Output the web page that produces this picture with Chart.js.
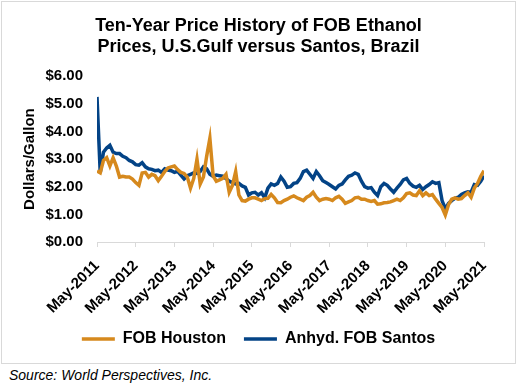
<!DOCTYPE html>
<html>
<head>
<meta charset="utf-8">
<script src="https://cdn.jsdelivr.net/npm/chart.js@4/dist/chart.umd.min.js"></script>
<style>
  html, body { margin: 0; padding: 0; background: #fff; }
  #box {
    position: absolute; left: 1px; top: 1px;
    width: 513px; height: 361px;
    border: 1px solid #d9d9d9;
  }
  #source {
    position: absolute; left: 9px; top: 367px;
    font: italic 14px 'Liberation Sans', Arial, sans-serif;
    color: #000;
  }
</style>
</head>
<body>
<div id="box"><canvas id="chart" width="513" height="361"></canvas></div>
<div id="source">Source: World Perspectives, Inc.</div>
<script>
// ─── Data (monthly, May-2011 .. May-2021, $/gallon) ──────────────────────

const tickLabels = [
  'May-2011', 'May-2012', 'May-2013', 'May-2014', 'May-2015', 'May-2016',
  'May-2017', 'May-2018', 'May-2019', 'May-2020', 'May-2021',
];

const fobHouston = [
  2.57, 2.50, 2.95, 3.05, 2.75, 3.05, 2.75, 2.35, 2.38, 2.35, 2.35, 2.28,
  2.15, 2.05, 2.50, 2.52, 2.35, 2.45, 2.40, 2.22, 2.38, 2.55, 2.68, 2.72,
  2.75, 2.62, 2.52, 2.48, 2.35, 1.95, 2.30, 3.00, 2.10, 2.35, 3.10, 3.75,
  2.40, 2.20, 2.25, 2.30, 2.45, 1.80, 2.05, 2.55, 1.70, 1.50, 1.48, 1.55,
  1.60, 1.60, 1.55, 1.50, 1.57, 1.58, 1.72, 1.60, 1.43, 1.42, 1.50, 1.55,
  1.62, 1.67, 1.60, 1.55, 1.50, 1.62, 1.68, 1.80, 1.62, 1.50, 1.55, 1.57,
  1.55, 1.50, 1.60, 1.65, 1.55, 1.40, 1.45, 1.50, 1.60, 1.62, 1.55, 1.55,
  1.50, 1.47, 1.50, 1.37, 1.38, 1.42, 1.43, 1.45, 1.50, 1.55, 1.50, 1.60,
  1.75, 1.78, 1.70, 1.68, 1.85, 1.68, 1.78, 1.68, 1.72, 1.55, 1.40, 1.25,
  0.98, 1.35, 1.55, 1.60, 1.55, 1.57, 1.68, 1.78, 1.62, 1.95, 2.12, 2.38,
  2.58,
];

const fobSantos = [
  5.25, 2.50, 3.25, 3.40, 3.50, 3.25, 3.20, 3.20, 3.10, 3.05, 2.95, 2.90,
  2.80, 2.78, 2.87, 2.72, 2.65, 2.63, 2.58, 2.60, 2.52, 2.65, 2.60, 2.58,
  2.52, 2.56, 2.42, 2.28, 2.40, 2.45, 2.50, 2.48, 2.55, 2.72, 2.65, 2.45,
  2.38, 2.42, 2.40, 2.38, 2.30, 2.20, 2.15, 2.10, 2.12, 2.03, 1.98, 1.70,
  1.78, 1.80, 1.70, 1.78, 1.60, 1.95, 2.10, 2.05, 2.12, 2.35, 2.20, 1.98,
  2.00, 2.12, 2.15, 2.30, 2.55, 2.60, 2.45, 2.30, 2.55, 2.40, 2.22, 2.15,
  2.08, 2.00, 1.92, 2.05, 2.10, 2.25, 2.38, 2.42, 2.50, 2.45, 2.20, 2.00,
  1.95, 1.97, 1.80, 1.68, 2.00, 2.12, 2.05, 1.92, 1.80, 1.95, 2.08, 2.25,
  2.30, 2.12, 2.02, 1.98, 2.05, 1.90, 2.00, 2.08, 2.18, 2.12, 2.15, 1.50,
  1.20, 1.40, 1.50, 1.58, 1.62, 1.72, 1.78, 1.82, 1.80, 2.08, 2.05, 2.20,
  2.40,
];

const ORANGE = '#d6891d';
const BLUE   = '#034386';
const FONT   = "'Liberation Sans', Arial, sans-serif";

Chart.defaults.font.family = FONT;
Chart.defaults.color = '#000';

const toPoints = arr => arr.map((v, i) => ({ x: i, y: v }));

new Chart(document.getElementById('chart'), {
  type: 'line',
  data: {
    datasets: [
      {
        label: 'FOB Houston',
        data: toPoints(fobHouston),
        borderColor: ORANGE,
        backgroundColor: ORANGE,
        borderWidth: 3.5,
        pointRadius: 0,
        tension: 0,
      },
      {
        label: 'Anhyd. FOB Santos',
        data: toPoints(fobSantos),
        borderColor: BLUE,
        backgroundColor: BLUE,
        borderWidth: 3.5,
        pointRadius: 0,
        tension: 0,
      },
    ],
  },
  options: {
    responsive: false,
    animation: false,
    layout: { padding: { top: 13, right: 0, bottom: 6, left: 0 } },
    plugins: {
      title: {
        display: true,
        text: ['Ten-Year Price History of FOB Ethanol', 'Prices, U.S.Gulf versus Santos, Brazil'],
        font: { size: 18, weight: 'bold' },
        color: '#000',
        lineHeight: 1.28,
        padding: { top: 0, bottom: 18 },
      },
      legend: {
        position: 'bottom',
        labels: {
          usePointStyle: true,
          pointStyle: 'line',
          pointStyleWidth: 33,
          boxHeight: 16,
          font: { size: 16, weight: 'bold' },
          color: '#000',
          padding: 18,
        },
      },
      tooltip: { enabled: false },
    },
    scales: {
      x: {
        type: 'linear',
        min: 0,
        max: 120,
        afterFit: s => { s.paddingLeft = 0; s.paddingRight = 31; s.height = 71; },
        ticks: {
          stepSize: 12,
          maxRotation: 45,
          minRotation: 45,
          padding: 10,
          font: { size: 15, weight: 'bold' },
          color: '#000',
          callback: v => tickLabels[v / 12] ?? '',
        },
        grid: { drawOnChartArea: false, drawTicks: true, tickLength: 5, color: '#d9d9d9' },
        border: { color: '#d9d9d9' },
      },
      y: {
        min: 0,
        max: 6,
        afterFit: s => { s.width = 95; },
        ticks: {
          stepSize: 1,
          padding: 14,
          font: { size: 15, weight: 'bold' },
          color: '#000',
          callback: v => '$' + v.toFixed(2),
        },
        grid: { display: false, drawTicks: false },
        border: { display: false },
        title: {
          display: true,
          text: 'Dollars/Gallon',
          font: { size: 15, weight: 'bold' },
          color: '#000',
          padding: { top: 19, bottom: 0 },
        },
      },
    },
  },
});
</script>
</body>
</html>
